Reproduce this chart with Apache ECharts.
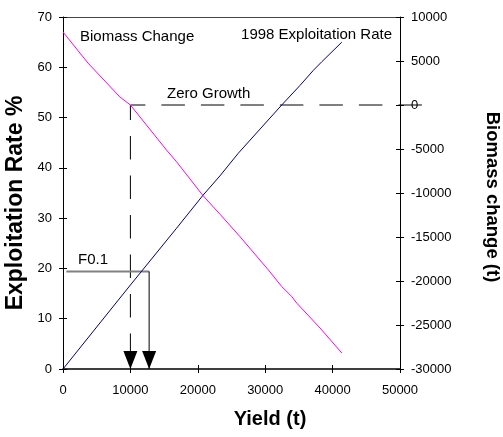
<!DOCTYPE html>
<html>
<head>
<meta charset="utf-8">
<script src="https://cdn.jsdelivr.net/npm/echarts@6/dist/echarts.min.js"></script>
<style>
html,body{margin:0;padding:0;background:#fff;}
#chart{width:503px;height:437px;}
</style>
</head>
<body>
<div id="chart"></div>
<script>
// ---- data ----
var yieldTicks = [0, 10000, 20000, 30000, 40000, 50000];
var rateTicks = [0, 10, 20, 30, 40, 50, 60, 70];
var biomassTicks = [-30000, -25000, -20000, -15000, -10000, -5000, 0, 5000, 10000];

// 1998 Exploitation Rate (%) vs yield (t)
var exploitYield = [0, 10000, 16850, 20802, 23284, 26003, 32451, 35171, 37147, 38395, 41367];
var exploitRate  = [0, 16.7, 28.0, 34.6, 38.4, 42.9, 52.5, 56.4, 59.4, 61.1, 65.0];

// Biomass change (t) vs yield (t)
var biomassYield  = [0, 3715, 8425, 10000, 15364, 16850, 20802, 23284, 26256, 30460, 32451, 33937, 34681, 38143, 41367];
var biomassChange = [8298, 4761, 925, 0, -5122, -6449, -10326, -12400, -14957, -18734, -20629, -21763, -22512, -25348, -28184];

// Reference lines
var zeroGrowthYield = 10000;
var zeroGrowthBiomass = 0;
var zeroGrowthLineEnd = 53400;
var f01Yield = 12780;
var f01Rate = 19.4;
var f01LineStart = 500;

var fontFam = '"Liberation Sans", Arial, sans-serif';

function pairs(xs, ys){ return xs.map(function(x,i){ return [x, ys[i]]; }); }
function plain(v){ return String(v); }

var arrowItem = function(coord){
  return { value: coord, symbol: 'triangle', symbolSize: [14, 18], symbolRotate: 180,
           symbolOffset: [0, -9], itemStyle: { color: '#000' } };
};

// layout
var W = 503, gridLeft = 63, gridRight = 103, gridTop = 17, gridBottom = 68;
var plotW = W - gridLeft - gridRight;
var xMax = yieldTicks[yieldTicks.length - 1];
// wider overlay grid (same scale) so the zero-growth line can run past the right axis
var extRight = W - gridLeft - plotW * zeroGrowthLineEnd / xMax;

var chart = echarts.init(document.getElementById('chart'), null, {renderer: 'canvas'});

var option = {
  animation: false,
  backgroundColor: '#fff',
  textStyle: { fontFamily: fontFam },
  grid: [
    { left: gridLeft, right: gridRight, top: gridTop, bottom: gridBottom, containLabel: false, outerBoundsMode: 'none' },
    { left: gridLeft, right: extRight, top: gridTop, bottom: gridBottom, containLabel: false, outerBoundsMode: 'none' }
  ],
  xAxis: [
    {
      type: 'value', position: 'bottom', gridIndex: 0,
      min: yieldTicks[0], max: xMax, interval: 10000,
      splitLine: { show: false },
      axisLine: { show: true, onZero: false, lineStyle: { color: '#000', width: 1.5 } },
      axisTick: { show: true, inside: false, length: 4, lineStyle: { color: '#000' } },
      axisLabel: { margin: 15, color: '#000', fontSize: 13, fontFamily: fontFam, formatter: plain }
    },
    {
      type: 'value', position: 'bottom', gridIndex: 0,
      min: yieldTicks[0], max: xMax, interval: 10000,
      splitLine: { show: false },
      axisLine: { show: false, onZero: false },
      axisTick: { show: true, inside: true, length: 4, lineStyle: { color: '#000' } },
      axisLabel: { show: false }
    },
    {
      type: 'value', position: 'top', gridIndex: 0,
      min: yieldTicks[0], max: xMax,
      splitLine: { show: false },
      axisLine: { show: true, onZero: false, lineStyle: { color: '#444', width: 1 } },
      axisTick: { show: false }, axisLabel: { show: false }
    },
    {
      type: 'value', gridIndex: 1, show: false,
      min: yieldTicks[0], max: zeroGrowthLineEnd
    }
  ],
  yAxis: [
    {
      type: 'value', position: 'left', gridIndex: 0,
      min: rateTicks[0], max: rateTicks[rateTicks.length - 1], interval: 10,
      splitLine: { show: false },
      axisLine: { show: true, onZero: false, lineStyle: { color: '#000', width: 1 } },
      axisTick: { show: true, inside: false, length: 4, lineStyle: { color: '#000' } },
      axisLabel: { margin: 11, color: '#000', fontSize: 13, fontFamily: fontFam, formatter: plain }
    },
    {
      type: 'value', position: 'right', gridIndex: 0,
      min: biomassTicks[0], max: biomassTicks[biomassTicks.length - 1], interval: 5000,
      splitLine: { show: false },
      axisLine: { show: true, onZero: false, lineStyle: { color: '#000', width: 1 } },
      axisTick: { show: true, inside: false, length: 4, lineStyle: { color: '#000' } },
      axisLabel: { margin: 11, color: '#000', fontSize: 13, fontFamily: fontFam, formatter: plain }
    },
    {
      type: 'value', position: 'left', gridIndex: 0,
      min: rateTicks[0], max: rateTicks[rateTicks.length - 1], interval: 10,
      splitLine: { show: false },
      axisLine: { show: false, onZero: false },
      axisTick: { show: true, inside: true, length: 4, lineStyle: { color: '#000' } },
      axisLabel: { show: false }
    },
    {
      type: 'value', position: 'right', gridIndex: 0,
      min: biomassTicks[0], max: biomassTicks[biomassTicks.length - 1], interval: 5000,
      splitLine: { show: false },
      axisLine: { show: false, onZero: false },
      axisTick: { show: true, inside: true, length: 4, lineStyle: { color: '#000' } },
      axisLabel: { show: false }
    },
    {
      type: 'value', gridIndex: 1, show: false,
      min: biomassTicks[0], max: biomassTicks[biomassTicks.length - 1]
    }
  ],
  series: [
    {
      name: '1998 Exploitation Rate', type: 'line', xAxisIndex: 0, yAxisIndex: 0,
      data: pairs(exploitYield, exploitRate),
      showSymbol: false, symbol: 'none',
      lineStyle: { color: '#000080', width: 1 }, z: 3
    },
    {
      name: 'Biomass Change', type: 'line', xAxisIndex: 0, yAxisIndex: 1,
      data: pairs(biomassYield, biomassChange),
      showSymbol: false, symbol: 'none',
      lineStyle: { color: '#ff00ff', width: 1 }, z: 3
    },
    {
      name: 'Zero Growth vertical', type: 'line', xAxisIndex: 0, yAxisIndex: 1, clip: false,
      data: [
        { value: [zeroGrowthYield, zeroGrowthBiomass], symbol: 'none' },
        arrowItem([zeroGrowthYield, biomassTicks[0]])
      ],
      showAllSymbol: true, symbol: 'none',
      lineStyle: { color: '#000', width: 1, type: [23.5, 16], dashOffset: 8.5 }, z: 2
    },
    {
      name: 'Zero Growth horizontal', type: 'line', xAxisIndex: 3, yAxisIndex: 4, clip: false,
      data: [[zeroGrowthYield, zeroGrowthBiomass], [zeroGrowthLineEnd, zeroGrowthBiomass]],
      symbol: 'none',
      lineStyle: { color: '#000', width: 1, type: [23.5, 16], dashOffset: 8.5 }, z: 2
    },
    {
      name: 'F0.1 h', type: 'line', xAxisIndex: 0, yAxisIndex: 0, clip: false,
      data: [[f01LineStart, f01Rate], [f01Yield, f01Rate]],
      symbol: 'none',
      lineStyle: { color: '#808080', width: 2 }, z: 2
    },
    {
      name: 'F0.1 v', type: 'line', xAxisIndex: 0, yAxisIndex: 0, clip: false,
      data: [
        { value: [f01Yield, f01Rate], symbol: 'none' },
        arrowItem([f01Yield, rateTicks[0]])
      ],
      showAllSymbol: true, symbol: 'none',
      lineStyle: { color: '#000', width: 1 }, z: 2
    }
  ],
  graphic: [
    { type: 'text', left: 80, top: 29, style: { text: 'Biomass Change', fontSize: 15, fontFamily: fontFam, fill: '#000' } },
    { type: 'text', right: 503 - 392, top: 27, style: { text: '1998 Exploitation Rate', fontSize: 15, fontFamily: fontFam, fill: '#000' } },
    { type: 'text', left: 167, top: 86, style: { text: 'Zero Growth', fontSize: 15, fontFamily: fontFam, fill: '#000' } },
    { type: 'text', left: 78, top: 252, style: { text: 'F0.1', fontSize: 15, fontFamily: fontFam, fill: '#000' } },
    { type: 'text', x: 270, y: 419, style: { text: 'Yield (t)', fontSize: 20, fontWeight: 'bold', fontFamily: fontFam, fill: '#000', align: 'center', verticalAlign: 'middle' } },
    { type: 'text', x: 16, y: 203, rotation: Math.PI / 2, style: { text: 'Exploitation Rate %', fontSize: 23, fontWeight: 'bold', fontFamily: fontFam, fill: '#000', align: 'center', verticalAlign: 'middle' } },
    { type: 'text', x: 492, y: 197, rotation: -Math.PI / 2, style: { text: 'Biomass change (t)', fontSize: 18.5, fontWeight: 'bold', fontFamily: fontFam, fill: '#000', align: 'center', verticalAlign: 'middle' } }
  ]
};
chart.setOption(option);
</script>
</body>
</html>
